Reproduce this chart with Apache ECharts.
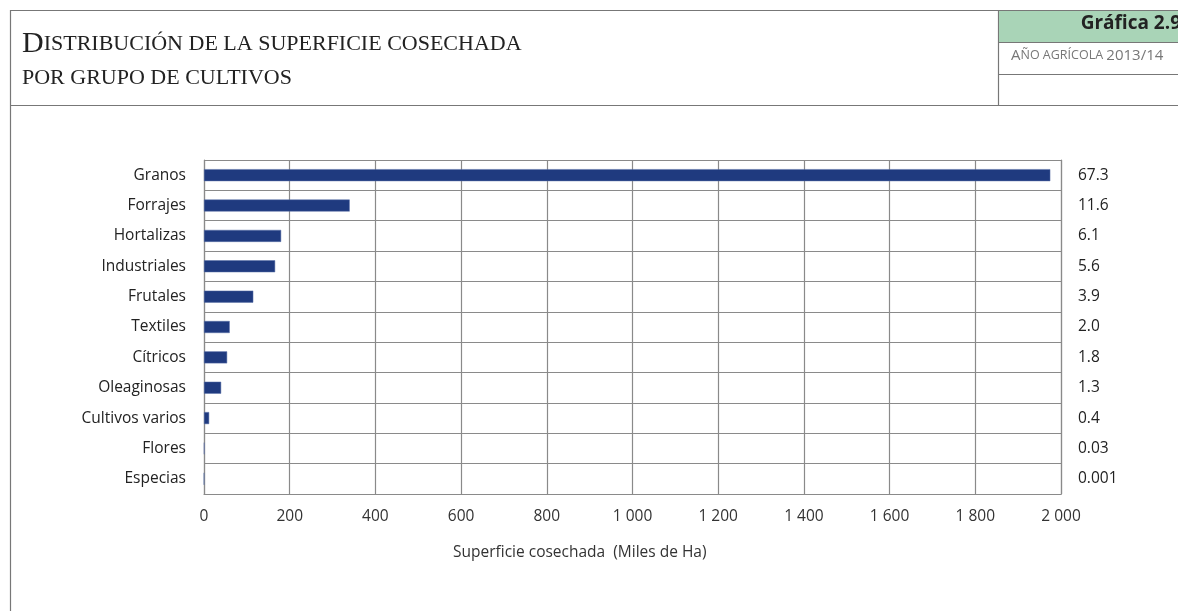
<!DOCTYPE html>
<html>
<head>
<meta charset="utf-8">
<title>Distribución de la superficie cosechada</title>
<script src="https://cdn.jsdelivr.net/npm/echarts@6/dist/echarts.min.js"></script>
<style>
  html, body { margin: 0; padding: 0; background: #fff; }
  #chart { width: 1178px; height: 611px; }
</style>
</head>
<body>
<div id="chart"></div>
<script>
// datos (miles de Ha)
var categorias = ['Granos', 'Forrajes', 'Hortalizas', 'Industriales', 'Frutales', 'Textiles',
    'Cítricos', 'Oleaginosas', 'Cultivos varios', 'Flores', 'Especias'];
var superficie = [1975, 340, 180, 166, 115, 60, 54, 40, 12, 0.9, 0.03];
var porcentaje = ['67.3', '11.6', '6.1', '5.6', '3.9', '2.0', '1.8', '1.3', '0.4', '0.03', '0.001'];
var ejeX = { min: 0, max: 2000, interval: 200 };

var chart = echarts.init(document.getElementById('chart'));
var gris = '#8a8a8a';
var fuente = '"Open Sans", "Noto Sans", sans-serif';

chart.setOption({
    backgroundColor: '#fff',
    animation: false,
    grid: { left: 204, right: 117, top: 160, height: 334 },
    xAxis: {
        type: 'value',
        min: ejeX.min,
        max: ejeX.max,
        interval: ejeX.interval,
        axisLine: { show: true, lineStyle: { color: gris, width: 1.2 } },
        axisTick: { show: false },
        splitLine: { show: true, lineStyle: { color: gris, width: 1.2 } },
        axisLabel: {
            margin: 15,
            color: '#333',
            fontSize: 15.5,
            fontFamily: fuente,
            formatter: function (v) {
                return String(v).replace(/\B(?=(\d{3})+(?!\d))/g, ' ');
            }
        }
    },
    yAxis: [{
        type: 'category',
        inverse: true,
        data: categorias,
        axisLine: { show: true, lineStyle: { color: gris, width: 1.2 } },
        axisTick: { show: false },
        splitLine: { show: true, lineStyle: { color: gris, width: 1.2 } },
        axisLabel: { margin: 18, color: '#222', fontSize: 15.5, fontFamily: fuente, padding: [6, 0, 0, 0] }
    }, {
        type: 'category',
        inverse: true,
        position: 'right',
        data: porcentaje,
        axisLine: { show: true, lineStyle: { color: gris, width: 1.2 } },
        axisTick: { show: false },
        axisLabel: { margin: 17, color: '#222', fontSize: 15.5, fontFamily: fuente, align: 'left', padding: [6, 0, 0, 0] }
    }],
    series: [{
        name: 'Superficie',
        type: 'bar',
        yAxisIndex: 0,
        barWidth: 12,
        itemStyle: { color: '#1f3a7f', borderColor: '#5a70a8', borderWidth: 0.5 },
        data: superficie
    }],
    graphic: [
        // marco de la página
        { type: 'line', shape: { x1: 10, y1: 10.5, x2: 1178, y2: 10.5 }, style: { stroke: '#777', lineWidth: 1.2 } },
        { type: 'line', shape: { x1: 10.5, y1: 10, x2: 10.5, y2: 611 }, style: { stroke: '#777', lineWidth: 1.2 } },
        { type: 'line', shape: { x1: 10, y1: 105.5, x2: 1178, y2: 105.5 }, style: { stroke: '#777', lineWidth: 1.2 } },
        { type: 'line', shape: { x1: 998.5, y1: 10, x2: 998.5, y2: 105 }, style: { stroke: '#777', lineWidth: 1.2 } },
        { type: 'rect', shape: { x: 999, y: 11, width: 179, height: 31 }, style: { fill: '#a9d4b7' } },
        { type: 'line', shape: { x1: 998, y1: 42.5, x2: 1178, y2: 42.5 }, style: { stroke: '#777', lineWidth: 1.2 } },
        { type: 'line', shape: { x1: 998, y1: 74.5, x2: 1178, y2: 74.5 }, style: { stroke: '#777', lineWidth: 1.2 } },
        {
            type: 'text', left: 22, top: 29,
            style: {
                text: '{g|D}{p|ISTRIBUCIÓN DE LA SUPERFICIE COSECHADA}\n{p|POR GRUPO DE CULTIVOS}',
                rich: {
                    g: { fontSize: 30, fontFamily: '"Liberation Serif", serif', fill: '#222', lineHeight: 34 },
                    p: { fontSize: 22, fontFamily: '"Liberation Serif", serif', fill: '#222', lineHeight: 34 }
                }
            }
        },
        {
            type: 'text', right: -3, top: 14,
            style: { text: 'Gráfica 2.9', fontSize: 19, fontWeight: 'bold', fontFamily: fuente, fill: '#222' }
        },
        {
            type: 'text', left: 1011, top: 48,
            style: {
                text: '{a|A}{b|ÑO AGRÍCOLA }{a|2013/14}',
                rich: {
                    a: { fontSize: 15, fontFamily: fuente, fill: '#777' },
                    b: { fontSize: 12.5, fontFamily: fuente, fill: '#777' }
                }
            }
        },
        {
            type: 'text', left: 453, top: 545,
            style: { text: 'Superficie cosechada  (Miles de Ha)', fontSize: 15.5, fontFamily: fuente, fill: '#333' }
        }
    ]
});
</script>
</body>
</html>
